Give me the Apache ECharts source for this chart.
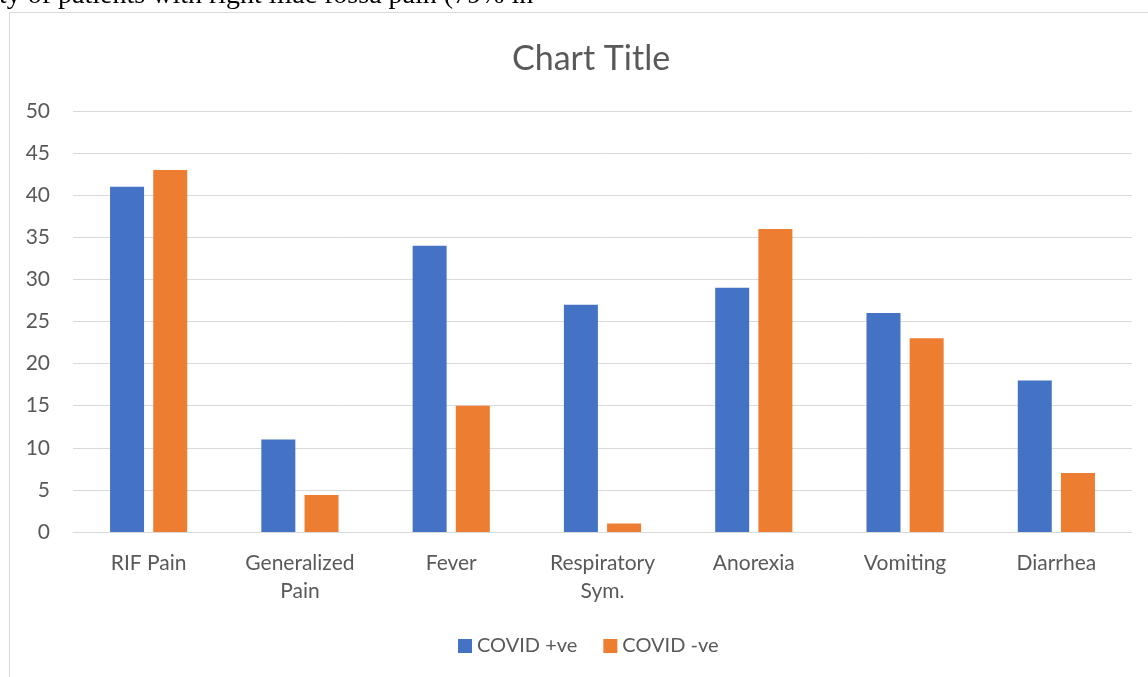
<!DOCTYPE html>
<html><head><meta charset="utf-8">
<script src="https://cdn.jsdelivr.net/npm/echarts@6/dist/echarts.min.js"></script>
<style>html,body{margin:0;padding:0;background:#fff}#c{width:1148px;height:677px}</style>
</head><body><div id="c"></div>
<script>
const categories = ['RIF Pain', 'Generalized\nPain', 'Fever', 'Respiratory\nSym.', 'Anorexia', 'Vomiting', 'Diarrhea'];
const covidPositive = [41, 11, 34, 27, 29, 26, 18];
const covidNegative = [43, 4.4, 15, 1, 36, 23, 7];
const seriesNames = ['COVID +ve', 'COVID -ve'];
const yTicks = { min: 0, max: 50, interval: 5 };

const chart = echarts.init(document.getElementById('c'), null, { renderer: 'canvas' });
const font = 'Lato, "Open Sans", sans-serif';
chart.setOption({
  animation: false,
  backgroundColor: '#fff',
  graphic: [
    { type: 'rect', shape: { x: 9.5, y: 12.5, width: 1200, height: 700 }, style: { fill: 'none', stroke: '#d9d9d9', lineWidth: 1 }, z: -1 },
    { type: 'text', x: -1, y: 10, style: { text: 'ty of patients with right iliac fossa pain (79% in', font: '28px "Liberation Serif", serif', fill: '#000', verticalAlign: 'bottom' } }
  ],
  title: {
    text: 'Chart Title', left: 507, top: 37,
    textStyle: { fontFamily: font, fontSize: 34, fontWeight: 'normal', color: '#595959' }
  },
  legend: {
    top: 631, left: 453, itemWidth: 14, itemHeight: 14, itemGap: 26,
    icon: 'rect',
    textStyle: { fontFamily: font, fontSize: 20, color: '#595959' },
    data: seriesNames
  },
  grid: { left: 73, right: 16, top: 111, bottom: 145 },
  xAxis: {
    type: 'category', data: categories,
    axisLine: { lineStyle: { color: '#d9d9d9', width: 1 } },
    axisTick: { show: false },
    axisLabel: { fontFamily: font, fontSize: 21, color: '#595959', margin: 17, lineHeight: 28, interval: 0 }
  },
  yAxis: {
    type: 'value', min: yTicks.min, max: yTicks.max, interval: yTicks.interval,
    axisLine: { show: false }, axisTick: { show: false },
    splitLine: { lineStyle: { color: '#d9d9d9', width: 1 } },
    axisLabel: { fontFamily: font, fontSize: 21, color: '#595959', margin: 23 }
  },
  series: [
    { name: seriesNames[0], type: 'bar', data: covidPositive, barWidth: 34, barGap: '27%', itemStyle: { color: '#4472c4' } },
    { name: seriesNames[1], type: 'bar', data: covidNegative, barWidth: 34, itemStyle: { color: '#ed7d31' } }
  ]
});
</script></body></html>
